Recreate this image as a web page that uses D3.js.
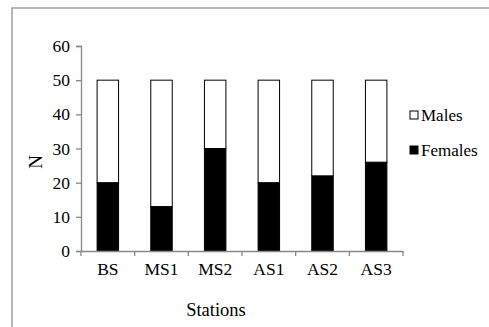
<!DOCTYPE html>
<html><head><meta charset="utf-8">
<script src="https://cdn.jsdelivr.net/npm/d3@7"></script>
<style>body{margin:0;background:#fff}svg{display:block}text{font-family:"Liberation Serif","Times New Roman",serif;fill:#000}</style>
</head><body>
<svg id="c" width="489" height="327"></svg>
<script>
const stations = ["BS","MS1","MS2","AS1","AS2","AS3"];
const females = [20,13,30,20,22,26];
const males = [30,37,20,30,28,24];
const yTicks = [0,10,20,30,40,50,60];
const seriesNames = ["Females","Males"];

const svg = d3.select("#c");
svg.append("rect").attr("x",12).attr("y",8).attr("width",600).attr("height",400)
  .attr("fill","none").attr("stroke","#a0a0a0").attr("stroke-width",1.5);

const x = d3.scaleBand().domain(stations).range([81,403]).paddingInner(0.6).paddingOuter(0.3);
const y = d3.scaleLinear().domain([0,60]).range([251,46]);

const rows = stations.map((s,i)=>({station:s,Females:females[i],Males:males[i]}));
const stack = d3.stack().keys(seriesNames)(rows);
const fill = {Females:"#000",Males:"#fff"};

svg.append("g").selectAll("g").data(stack).join("g")
  .attr("fill",d=>fill[d.key]).attr("stroke","#000").attr("stroke-width",1)
  .selectAll("rect").data(d=>d).join("rect")
  .attr("x",d=>x(d.data.station)).attr("width",x.bandwidth())
  .attr("y",d=>y(d[1])).attr("height",d=>y(d[0])-y(d[1]));

const axisColor="#888";
const ya = svg.append("g").attr("transform","translate(81,0)")
  .call(d3.axisLeft(y).tickValues(yTicks).tickSize(5).tickPadding(6));
const xa = svg.append("g").attr("transform","translate(0,251)")
  .call(d3.axisBottom(x).tickSize(0).tickPadding(12));
const step = x.step();
const bounds = d3.range(stations.length+1).map(i=>81+i*step);
xa.selectAll("line.bt").data(bounds).join("line").attr("class","bt")
  .attr("x1",d=>d).attr("x2",d=>d).attr("y1",0).attr("y2",5).attr("stroke",axisColor);
[ya,xa].forEach(a=>{
  a.selectAll("path,line").attr("stroke",axisColor).attr("stroke-width",1.3);
  a.selectAll("text").style("font-family","'Liberation Serif',serif").style("font-size","17.5px").attr("fill","#000");
});

svg.append("text").attr("transform","translate(35,162) rotate(-90)").attr("text-anchor","middle")
  .attr("dy","0.35em").style("font-size","19px").text("N");
svg.append("text").attr("x",216).attr("y",316).attr("text-anchor","middle").style("font-size","18.5px").text("Stations");

const leg = svg.append("g");
const legItems = ["Males","Females"];
legItems.forEach((k,i)=>{
  const yy = 115 + i*35;
  leg.append("rect").attr("x",410).attr("y",yy-4).attr("width",8).attr("height",8)
    .attr("fill",fill[k]).attr("stroke","#000");
  leg.append("text").attr("x",421).attr("y",yy).attr("dy","0.35em").style("font-size","17px").text(k);
});
</script>
</body></html>
